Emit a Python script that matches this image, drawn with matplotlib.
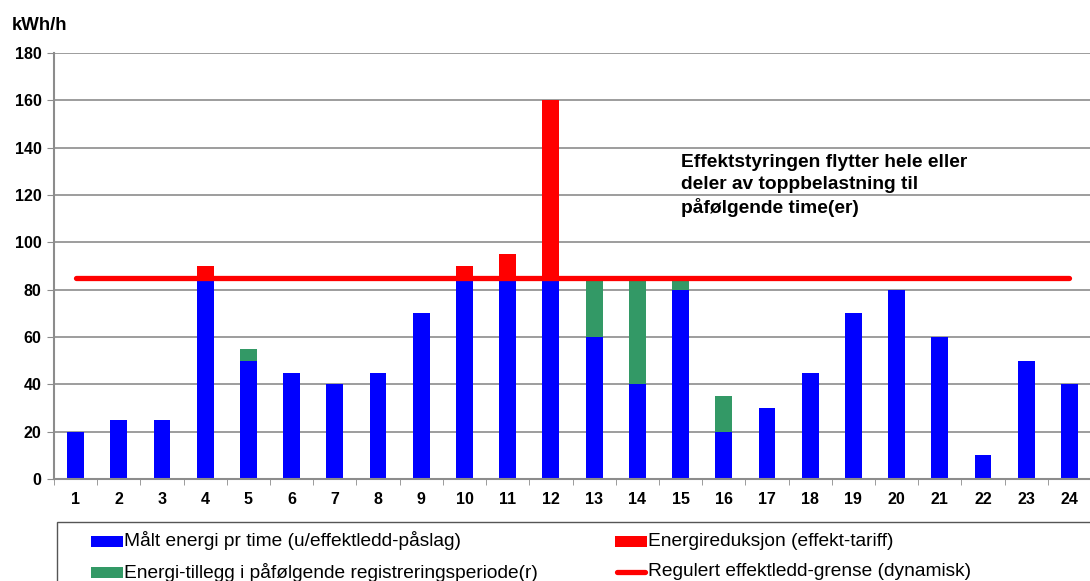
import matplotlib
matplotlib.use("Agg")
import matplotlib.pyplot as plt
from matplotlib.patches import Rectangle
from matplotlib.lines import Line2D
import numpy as np

plt.rcParams['font.family'] = ['Liberation Sans', 'DejaVu Sans']

hours = list(range(1, 25))
measured = [20, 25, 25, 85, 50, 45, 40, 45, 70, 85, 85, 85, 60, 40, 80, 20, 30, 45, 70, 80, 60, 10, 50, 40]
added = [0, 0, 0, 0, 5, 0, 0, 0, 0, 0, 0, 0, 25, 45, 5, 15, 0, 0, 0, 0, 0, 0, 0, 0]
reduction = [0, 0, 0, 5, 0, 0, 0, 0, 0, 5, 10, 75, 0, 0, 0, 0, 0, 0, 0, 0, 0, 0, 0, 0]
limit = [85] * 24
yticks = [0, 20, 40, 60, 80, 100, 120, 140, 160, 180]

labels = ["Målt energi pr time (u/effektledd-påslag)",
          "Energireduksjon (effekt-tariff)",
          "Energi-tillegg i påfølgende registreringsperiode(r)",
          "Regulert effektledd-grense (dynamisk)"]
note = "Effektstyringen flytter hele eller\ndeler av toppbelastning til\npåfølgende time(er)"

BLUE = "#0000FF"
RED = "#FF0000"
GREEN = "#339966"
GRID = "#8c8c8c"

W, H = 1090, 581
fig = plt.figure(figsize=(W / 100, H / 100), dpi=100)
ax = fig.add_axes([54 / W, 1 - 479 / H, (1091 - 54) / W, (479 - 53) / H])

x = np.array(hours)
bw = 0.39
ax.bar(x, measured, width=bw, color=BLUE, zorder=3)
ax.bar(x, added, width=bw, bottom=measured, color=GREEN, zorder=3)
bot2 = np.array(measured) + np.array(added)
ax.bar(x, reduction, width=bw, bottom=bot2, color=RED, zorder=3)
ax.plot(x, limit, color=RED, lw=3.8, solid_capstyle='round', zorder=4)

ax.set_xlim(0.5, 24.5)
ax.set_ylim(0, 180)
ax.set_yticks(yticks)
ax.set_xticks(hours)
ax.set_xticks(np.arange(0.5, 25, 1), minor=True)
ax.tick_params(axis='x', which='major', length=0, pad=9)
ax.tick_params(axis='x', which='minor', length=4, color=GRID, direction='out')
ax.tick_params(axis='y', length=5, color=GRID, direction='out', pad=4)
for lab in ax.get_xticklabels() + ax.get_yticklabels():
    lab.set_fontweight('bold')
    lab.set_fontsize(11.5)
ax.yaxis.grid(True, color=GRID, lw=1.2, zorder=0)
for s in ['top', 'right']:
    ax.spines[s].set_visible(False)
for s in ['left', 'bottom']:
    ax.spines[s].set_color(GRID)
    ax.spines[s].set_linewidth(1.5)
    ax.spines[s].set_zorder(5)

ax.text(15.0, 137.5, note, fontsize=13.8, fontweight='bold', va='top', ha='left',
        linespacing=1.38, zorder=6)

fig.text(12 / W, 1 - 25 / H, "kWh/h", fontsize=13.4, fontweight='bold', va='center', ha='left')

# legend box (partially outside figure, like the reference)
fig.patches.append(Rectangle((57 / W, -0.1), 1.2, (1 - 522 / H) + 0.1,
                             transform=fig.transFigure, fill=False,
                             edgecolor='#555555', lw=1.0, clip_on=True))
rows = [1 - 541 / H, 1 - 572 / H]
col_h = [91 / W, 615 / W]
hw = 32 / W
hh = 11 / H
entries = [(col_h[0], rows[0], 'bar', BLUE, labels[0]),
           (col_h[1], rows[0], 'bar', RED, labels[1]),
           (col_h[0], rows[1], 'bar', GREEN, labels[2]),
           (col_h[1], rows[1], 'line', RED, labels[3])]
for hx, hy, kind, c, lab in entries:
    if kind == 'bar':
        fig.patches.append(Rectangle((hx, hy - hh / 2), hw, hh, transform=fig.transFigure,
                                     facecolor=c, edgecolor='none'))
    else:
        fig.lines.append(Line2D([hx + 2 / W, hx + hw - 2 / W], [hy, hy], transform=fig.transFigure,
                                color=c, lw=3.8, solid_capstyle='round'))
    fig.text(hx + hw + 1 / W, hy, lab, fontsize=13.8, va='center', ha='left')

fig.savefig("out.png", dpi=100)
